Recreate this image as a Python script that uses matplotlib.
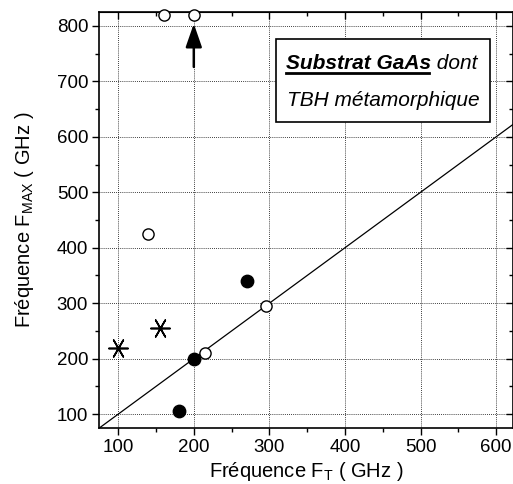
import matplotlib
matplotlib.use("Agg")
import matplotlib.pyplot as plt
import numpy as np
from matplotlib.lines import Line2D
from matplotlib.patches import Rectangle

plt.rcParams['font.family'] = ['Liberation Sans', 'DejaVu Sans']
plt.rcParams['mathtext.fontset'] = 'custom'
plt.rcParams['mathtext.rm'] = 'Liberation Sans'

# data (GHz)
open_ft = [160, 200, 140, 215, 295]
open_fmax = [820, 820, 425, 210, 295]
filled_ft = [180, 200, 270]
filled_fmax = [105, 200, 340]
star_ft = [100, 155]
star_fmax = [220, 255]
arrow_ft = 200
arrow_from, arrow_to = 726, 804

xticks = [100, 200, 300, 400, 500, 600]
yticks = [100, 200, 300, 400, 500, 600, 700, 800]

fig = plt.figure(figsize=(5.13, 4.84), dpi=100)
ax = fig.add_axes([0.1936, 0.1157, 0.806, 0.8595])

ax.set_xlim(75, 622)
ax.set_ylim(75, 825)
ax.set_xticks(xticks)
ax.set_yticks(yticks)
ax.set_xticks(np.arange(150, 650, 100), minor=True)
ax.set_yticks(np.arange(150, 850, 100), minor=True)
ax.tick_params(which='major', direction='out', length=5, width=1, labelsize=13.5, colors='k', pad=3)
ax.tick_params(which='minor', direction='out', length=3, width=1)
ax.grid(True, which='major', linestyle=(0, (1, 1.5)), color='k', linewidth=0.6)
for s in ax.spines.values():
    s.set_linewidth(1.2)

# inward ticks on top and right
top = ax.secondary_xaxis('top')
top.set_xticks(xticks)
top.set_xticks(np.arange(150, 650, 100), minor=True)
top.tick_params(which='major', direction='in', length=5, width=1, labeltop=False)
top.tick_params(which='minor', direction='in', length=3, width=1)
right = ax.secondary_yaxis('right')
right.set_yticks(yticks)
right.set_yticks(np.arange(150, 850, 100), minor=True)
right.tick_params(which='major', direction='in', length=5, width=1, labelright=False)
right.tick_params(which='minor', direction='in', length=3, width=1)

ax.axline((0, 0), slope=1, color='k', linewidth=0.9, zorder=2)

ax.scatter(open_ft, open_fmax, s=65, facecolor='white', edgecolor='k', linewidth=1, zorder=5, clip_on=False)
ax.scatter(filled_ft, filled_fmax, s=80, color='k', zorder=5)
ax.scatter(star_ft, star_fmax, s=190, marker=(6, 2, 90), color='k', linewidth=1.2, zorder=5)

ax.annotate('', xy=(arrow_ft, arrow_to), xytext=(arrow_ft, arrow_from),
            arrowprops=dict(arrowstyle='-|>,head_length=0.95,head_width=0.33', mutation_scale=15,
                            color='k', lw=1.8, shrinkA=0, shrinkB=0))

ax.set_xlabel('Fréquence F$_{\\mathregular{T}}$ ( GHz )', fontsize=14.5, labelpad=3)
ax.set_ylabel('Fréquence F$_{\\mathregular{MAX}}$ ( GHz )', fontsize=14.5, labelpad=15)

# text box
ax.add_patch(Rectangle((0.4274, 0.7356), 0.5176, 0.1994, transform=ax.transAxes,
                       facecolor='white', edgecolor='k', linewidth=1.2, zorder=6))
t1 = ax.text(0.452, 0.862, 'Substrat GaAs', transform=ax.transAxes, fontsize=15,
             fontweight='bold', fontstyle='italic', zorder=7)
ax.annotate(' dont', xy=(1, 0), xycoords=t1, va='bottom', ha='left', fontsize=15,
            fontstyle='italic', zorder=7)
ax.text(0.454, 0.774, 'TBH métamorphique', transform=ax.transAxes, fontsize=15,
        fontstyle='italic', zorder=7)

fig.canvas.draw()
bb = t1.get_window_extent().transformed(fig.transFigure.inverted())
uy = bb.y0 + 0.001
fig.add_artist(Line2D([bb.x0, bb.x1 - 0.004], [uy, uy], color='k', linewidth=2.0, zorder=8))

fig.savefig('out.png', dpi=100)
